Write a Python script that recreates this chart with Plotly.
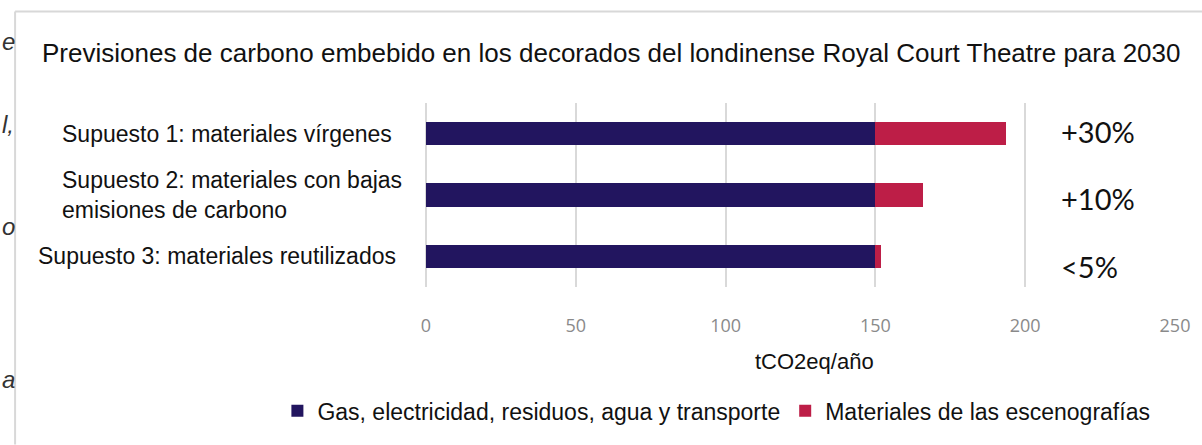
import plotly.graph_objects as go

# ---- data ----
scenarios = ["Supuesto 1: materiales vírgenes",
             "Supuesto 2: materiales con bajas<br>emisiones de carbono",
             "Supuesto 3: materiales reutilizados"]
gas_vals = [150, 150, 150]
mat_vals = [43.5, 16, 2]
pct_labels = ["+30%", "+10%", "<5%"]
series_names = ["Gas, electricidad, residuos, agua y transporte", "Materiales de las escenografías"]
tick_vals = [0, 50, 100, 150, 200, 250]
title_text = "Previsiones de carbono embebido en los decorados del londinense Royal Court Theatre para 2030"
x_title = "tCO2eq/año"
fragments = ["e", "l,", "o", "a"]

NAVY = "#22155F"
RED = "#BD1E47"
GRID = "#D9D9D9"

W, H = 1202, 445
L, R, T, B = 426, 25, 103, 155
PW, PH = W - L - R, H - T - B

def px_x(p):
    return (p - L) / PW

def px_y(p):
    return (H - B - p) / PH

fig = go.Figure()
fig.add_trace(go.Bar(y=scenarios, x=gas_vals, orientation="h", name=series_names[0],
                     marker=dict(color=NAVY, line=dict(width=0))))
fig.add_trace(go.Bar(y=scenarios, x=mat_vals, orientation="h", name=series_names[1],
                     marker=dict(color=RED, line=dict(width=0))))

ann = []
ann.append(dict(text=title_text, xref="paper", yref="paper", x=px_x(611), y=px_y(52),
                xanchor="center", yanchor="middle", showarrow=False,
                font=dict(family="Liberation Sans, Arial", size=26, color="#111111")))
label_x = [59, 59, 35]
for s, lx in zip(scenarios, label_x):
    ann.append(dict(text=s, xref="paper", yref="y", x=px_x(lx), y=s, xanchor="left",
                    yanchor="middle", align="left", showarrow=False,
                    font=dict(family="Liberation Sans, Arial", size=23, color="#111111")))
yshifts = [2, -3, -10]
for s, p, ys in zip(scenarios, pct_labels, yshifts):
    ann.append(dict(text=p, xref="paper", yref="y", x=px_x(1061), y=s, xanchor="left",
                    yanchor="middle", showarrow=False, yshift=ys,
                    font=dict(family="Lato, Open Sans", size=29, color="#111111")))
ann.append(dict(text=x_title, xref="paper", yref="paper", x=px_x(816), y=px_y(366),
                xanchor="center", yanchor="middle", showarrow=False,
                font=dict(family="Liberation Sans, Arial", size=22, color="#111111")))
for t, yy in zip(fragments, [40, 125, 229, 384]):
    ann.append(dict(text="<i>" + t + "</i>", xref="paper", yref="paper", x=px_x(-1), y=px_y(yy),
                    xanchor="left", yanchor="middle", showarrow=False,
                    font=dict(family="Liberation Sans, Arial", size=24, color="#333333")))

shapes = [
    dict(type="line", xref="paper", yref="paper", x0=px_x(14), x1=px_x(1210), y0=px_y(10), y1=px_y(10),
         line=dict(color="#D8D8D8", width=2)),
    dict(type="line", xref="paper", yref="paper", x0=px_x(14), x1=px_x(14), y0=px_y(10), y1=px_y(450),
         line=dict(color="#D8D8D8", width=2)),
]

fig.update_layout(
    width=W, height=H,
    margin=dict(l=L, r=R, t=T, b=B, pad=0),
    paper_bgcolor="white", plot_bgcolor="white",
    barmode="stack", bargap=0.62,
    showlegend=True,
    legend=dict(orientation="h", traceorder="normal", x=px_x(277), y=px_y(394),
                xanchor="left", yanchor="top",
                font=dict(family="Liberation Sans, Arial", size=23, color="#111111"),
                itemwidth=30, tracegroupgap=0, bgcolor="rgba(0,0,0,0)"),
    xaxis=dict(range=[0, 250], tickvals=tick_vals, showgrid=True, gridcolor=GRID, gridwidth=2,
               zeroline=True, zerolinecolor=GRID, zerolinewidth=2, showline=False, ticks="",
               tickfont=dict(family="Open Sans, Liberation Sans", size=18, color="#8A8A8A"),
               ticklabelstandoff=26),
    yaxis=dict(categoryorder="array", categoryarray=scenarios, range=[2.5, -0.5],
               showticklabels=False, showgrid=False, zeroline=False, showline=False, ticks=""),
    annotations=ann, shapes=shapes,
)

fig.write_html("out.html", config={"displayModeBar": False},
               post_script="document.body.style.margin='0';document.body.style.overflow='hidden';")
